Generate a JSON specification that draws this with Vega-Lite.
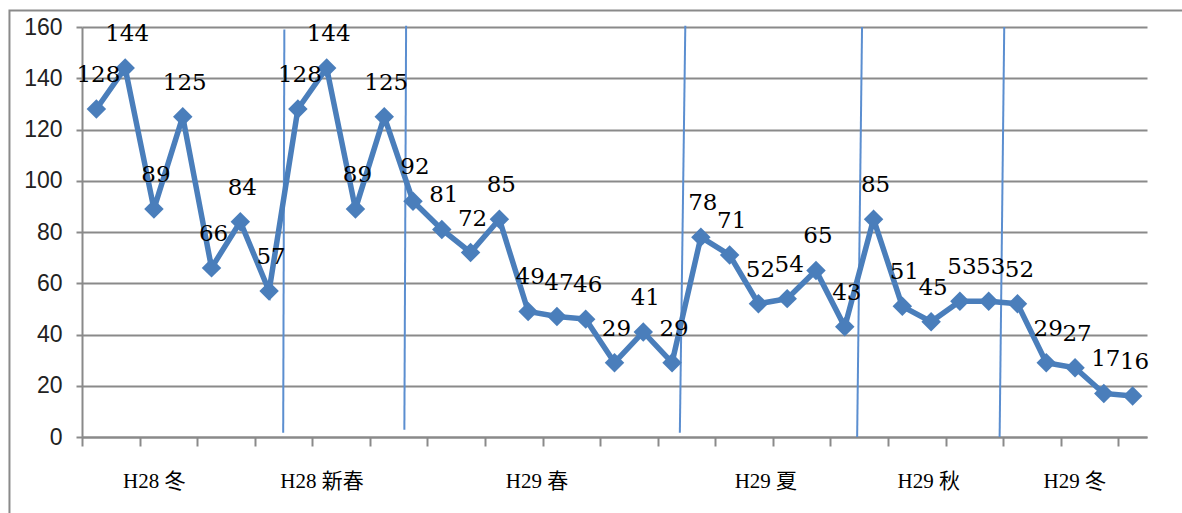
{
  "$schema": "https://vega.github.io/schema/vega-lite/v6.json",
  "width": 1065,
  "height": 410,
  "autosize": "none",
  "padding": {"left": 82, "top": 27, "right": 35, "bottom": 76},
  "background": "white",
  "config": {"view": {"stroke": null}},
  "datasets": {
    "series": [
      {"i": 0, "v": 128}, {"i": 1, "v": 144}, {"i": 2, "v": 89}, {"i": 3, "v": 125},
      {"i": 4, "v": 66}, {"i": 5, "v": 84}, {"i": 6, "v": 57}, {"i": 7, "v": 128},
      {"i": 8, "v": 144}, {"i": 9, "v": 89}, {"i": 10, "v": 125}, {"i": 11, "v": 92},
      {"i": 12, "v": 81}, {"i": 13, "v": 72}, {"i": 14, "v": 85}, {"i": 15, "v": 49},
      {"i": 16, "v": 47}, {"i": 17, "v": 46}, {"i": 18, "v": 29}, {"i": 19, "v": 41},
      {"i": 20, "v": 29}, {"i": 21, "v": 78}, {"i": 22, "v": 71}, {"i": 23, "v": 52},
      {"i": 24, "v": 54}, {"i": 25, "v": 65}, {"i": 26, "v": 43}, {"i": 27, "v": 85},
      {"i": 28, "v": 51}, {"i": 29, "v": 45}, {"i": 30, "v": 53}, {"i": 31, "v": 53},
      {"i": 32, "v": 52}, {"i": 33, "v": 29}, {"i": 34, "v": 27}, {"i": 35, "v": 17},
      {"i": 36, "v": 16}
    ],
    "dividers": [
      {"xt": 6.53, "xb": 6.49, "yt": 159, "yb": 1.7},
      {"xt": 10.76, "xb": 10.7, "yt": 160.5, "yb": 2.85},
      {"xt": 20.46, "xb": 20.27, "yt": 160.5, "yb": 1.7},
      {"xt": 26.6, "xb": 26.43, "yt": 160, "yb": 0},
      {"xt": 31.54, "xb": 31.38, "yt": 160, "yb": 0}
    ],
    "groups": [
      {"label": "H28 冬", "pos": 2.01},
      {"label": "H28 新春", "pos": 7.84},
      {"label": "H29 春", "pos": 15.31},
      {"label": "H29 夏", "pos": 23.26},
      {"label": "H29 秋", "pos": 28.92},
      {"label": "H29 冬", "pos": 33.99}
    ],
    "frame": [{"x1": -3.02, "x2": 38.5, "y1": 166.4, "y2": -33}]
  },
  "layer": [
    {
      "data": {"name": "frame"},
      "mark": {"type": "rect", "fill": null, "stroke": "#8a8a8a", "strokeWidth": 2, "clip": false},
      "encoding": {
        "x": {"field": "x1", "type": "quantitative", "scale": {"domain": [-0.5, 36.5], "nice": false, "zero": false}},
        "x2": {"field": "x2"},
        "y": {"field": "y1", "type": "quantitative", "scale": {"domain": [0, 160], "nice": false}},
        "y2": {"field": "y2"}
      }
    },
    {
      "data": {"name": "dividers"},
      "mark": {"type": "rule", "color": "#5b8ed0", "strokeWidth": 2},
      "encoding": {
        "x": {"field": "xt", "type": "quantitative"},
        "x2": {"field": "xb"},
        "y": {"field": "yt", "type": "quantitative"},
        "y2": {"field": "yb"}
      }
    },
    {
      "data": {"name": "series"},
      "mark": {
        "type": "line",
        "color": "#4a7ebb",
        "strokeWidth": 5.5,
        "point": {"shape": "diamond", "size": 380, "filled": true, "color": "#4a7ebb", "opacity": 1}
      },
      "encoding": {
        "x": {
          "field": "i", "type": "quantitative",
          "scale": {"domain": [-0.5, 36.5], "nice": false, "zero": false},
          "axis": {
            "title": null,
            "labels": false,
            "grid": false,
            "values": [-0.5, 0.5, 1.5, 2.5, 3.5, 4.5, 5.5, 6.5, 7.5, 8.5, 9.5, 10.5, 11.5, 12.5, 13.5, 14.5, 15.5, 16.5, 17.5, 18.5, 19.5, 20.5, 21.5, 22.5, 23.5, 24.5, 25.5, 26.5, 27.5, 28.5, 29.5, 30.5, 31.5, 32.5, 33.5, 34.5, 35.5, 36.5],
            "tickSize": 9,
            "tickColor": "#8a8a8a",
            "tickWidth": 2,
            "domainColor": "#8a8a8a",
            "domainWidth": 2
          }
        },
        "y": {
          "field": "v", "type": "quantitative",
          "scale": {"domain": [0, 160], "nice": false},
          "axis": {
            "title": null,
            "values": [0, 20, 40, 60, 80, 100, 120, 140, 160],
            "grid": true,
            "gridColor": "#8a8a8a",
            "gridWidth": 2,
            "tickSize": 6,
            "tickColor": "#8a8a8a",
            "tickWidth": 2,
            "domainColor": "#8a8a8a",
            "domainWidth": 2,
            "labelFont": "Liberation Sans",
            "labelFontSize": 23,
            "labelColor": "#222222",
            "labelPadding": 14
          }
        }
      }
    },
    {
      "data": {"name": "series"},
      "mark": {"type": "text", "font": "DejaVu Serif", "fontSize": 23, "color": "#000000", "align": "center", "baseline": "alphabetic", "dy": -27, "dx": 2},
      "encoding": {
        "x": {"field": "i", "type": "quantitative"},
        "y": {"field": "v", "type": "quantitative"},
        "text": {"field": "v", "type": "quantitative"}
      }
    },
    {
      "data": {"name": "groups"},
      "mark": {"type": "text", "font": "Liberation Serif, Noto Sans CJK JP", "fontSize": 21, "color": "#000000", "align": "center", "baseline": "alphabetic"},
      "encoding": {
        "x": {"field": "pos", "type": "quantitative"},
        "y": {"datum": -19.8, "type": "quantitative"},
        "text": {"field": "label"}
      }
    }
  ]
}
